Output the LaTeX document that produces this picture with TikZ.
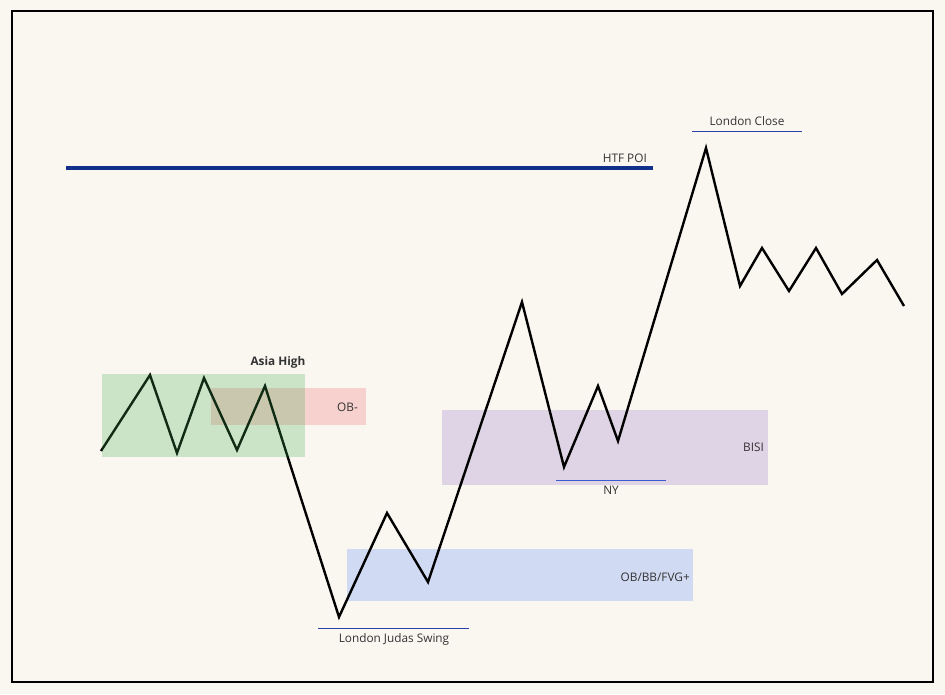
\documentclass[tikz,border=0pt]{standalone}
\usepackage{fontspec}
\setmainfont{Open Sans}
\definecolor{paper}{HTML}{FAF7F1}
\definecolor{asiagreen}{HTML}{42AF51}
\definecolor{obred}{HTML}{F7C8C6}
\definecolor{bisipurple}{HTML}{DFD3E6}
\definecolor{obblue}{HTML}{D0DAF2}
\definecolor{navy}{HTML}{10308C}
\definecolor{levelblue}{HTML}{2A3FA8}
\definecolor{lineblue}{HTML}{3A5BD0}
\definecolor{txt}{HTML}{333333}
\begin{document}
\begin{tikzpicture}[x=1pt,y=-1pt]
        		\tikzstyle{zone}=[draw=none,fill opacity=0.8]
        		\tikzstyle{price}=[draw=black, line width=2.4pt, line join=miter]
        		\tikzstyle{level}=[draw=levelblue, line width=0.9pt]
        		\tikzstyle{lbl}=[font=\fontsize{11.8}{14}\selectfont, text=txt, inner sep=0pt]
        		% background and frame
        		\fill[paper] (0,0) rectangle (945,694);
        		\draw[line width=2pt] (12,11) rectangle (933,682);
        		% zones
        		\fill[zone,obred] (211,388) rectangle (366,425);
        		\fill[zone,bisipurple,fill opacity=1] (442,410) rectangle (768,485);
        		\fill[zone,obblue,fill opacity=1] (347,549) rectangle (693,601);
        		\node [lbl, anchor=east] (obminus) at (358,407) {OB-};
        		\node [lbl, anchor=east] (bisi) at (764,447) {BISI};
        		\node [lbl, anchor=east] (obplus) at (690,577) {OB/BB/FVG+};
        		% price path
        		\foreach \n/\x/\y in {0/101/451,1/150/375,2/177/453,3/204/378,4/237/450,5/265/386,
        			6/339/617,7/387/513,8/428/582,9/522/302,10/564/467,11/598/386,12/618/441,
        			13/706/148,14/740/286,15/762/248,16/789/291,17/816/248,18/842/294,19/877/260,20/904/306}
        			\coordinate (p\n) at (\x,\y);
        		\draw[price] (p0) -- (p1) -- (p2) -- (p3) -- (p4) -- (p5) -- (p6) -- (p7) -- (p8) -- (p9)
        			-- (p10) -- (p11) -- (p12) -- (p13) -- (p14) -- (p15) -- (p16) -- (p17) -- (p18) -- (p19) -- (p20);
        		\fill[zone,asiagreen,fill opacity=0.25] (102,374) rectangle (305,457);
        		\node [lbl, font=\fontsize{11.8}{14}\selectfont\bfseries] (asia) at (278,362) {Asia High};
        		% levels
        		\coordinate (htfa) at (66,168);
        		\coordinate (htfb) at (653,168);
        		\draw[navy, line width=3.2pt] (htfa) -- (htfb);
        		\node [lbl, anchor=east] (htf) at (647,158) {HTF POI};
        		\coordinate (lca) at (692,131);
        		\coordinate (lcb) at (802,131);
        		\draw[level] (lca) -- (lcb);
        		\node [lbl] (lclose) at (747,121) {London Close};
        		\coordinate (nya) at (556,480);
        		\coordinate (nyb) at (666,480);
        		\draw[level, draw=lineblue] (nya) -- (nyb);
        		\node [lbl] (ny) at (611,490) {NY};
        		\coordinate (lja) at (318,628);
        		\coordinate (ljb) at (469,628);
        		\draw[level] (lja) -- (ljb);
        		\node [lbl] (judas) at (394,639) {London Judas Swing};
\end{tikzpicture}
\end{document}
